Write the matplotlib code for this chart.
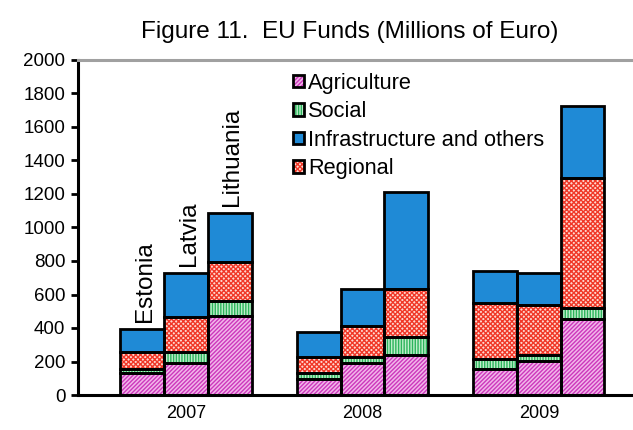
import matplotlib
matplotlib.use('Agg')
import matplotlib.pyplot as plt
import matplotlib.patches as mpatches
import numpy as np

plt.rcParams['font.family'] = ['Liberation Sans', 'DejaVu Sans']
plt.rcParams['hatch.linewidth'] = 1.0

# ---------------------------------------------------------------------------
# DATA  (rows = countries, columns = years), millions of euro
# ---------------------------------------------------------------------------
years = ['2007', '2008', '2009']
countries = ['Estonia', 'Latvia', 'Lithuania']

agriculture = [[130, 98, 153], [190, 190, 203], [473, 239, 452]]
social = [[27, 32, 62], [68, 36, 36], [88, 109, 66]]
regional = [[102, 96, 336], [205, 185, 298], [235, 283, 776]]
infrastructure = [[135, 153, 191], [266, 219, 193], [290, 583, 433]]

yticks = list(range(0, 2001, 200))

# stacking order from bottom: agriculture, social, regional, infrastructure
series = [
    ('Agriculture', agriculture, '#F2B6EA', '#CC38BC', '////////'),
    ('Social', social, '#C0EECC', '#2CB45C', '||||||'),
    ('Regional', regional, '#FFD8D0', '#F03828', 'xxxxxxx'),
    ('Infrastructure and others', infrastructure, '#1F8AD6', '#1F8AD6', None),
]
legend_order = ['Agriculture', 'Social', 'Infrastructure and others', 'Regional']

# ---------------------------------------------------------------------------
# FIGURE
# ---------------------------------------------------------------------------
fig = plt.figure(figsize=(6.33, 4.30), dpi=100, facecolor='white')
ax = fig.add_axes([78 / 633, 1 - 395 / 430, 1 - 78 / 633, (395 - 60) / 430])

x = np.arange(len(years))
bw = 0.2475
offsets = [-bw, 0, bw]

handles = {}
for ci, country in enumerate(countries):
    bottom = np.zeros(len(years))
    for name, data, face, hcol, hatch in series:
        vals = np.array(data[ci], dtype=float)
        ax.bar(x + offsets[ci], vals, width=bw, bottom=bottom,
               color=face, edgecolor=hcol, hatch=hatch, linewidth=0, zorder=2)
        ax.bar(x + offsets[ci], vals, width=bw, bottom=bottom,
               fill=False, edgecolor='black', linewidth=2.0, zorder=3)
        if name not in handles:
            handles[name] = (
                mpatches.Patch(facecolor=face, edgecolor=hcol, hatch=hatch, linewidth=0),
                mpatches.Patch(fill=False, edgecolor='black', linewidth=2.0),
            )
        bottom += vals

# country labels above the 2007 bars
totals_2007 = [sum(s[1][ci][0] for s in series) for ci in range(len(countries))]
for ci, country in enumerate(countries):
    ax.text(x[0] + offsets[ci] + 0.015, totals_2007[ci] + 40, country, rotation=90,
            ha='center', va='bottom', fontsize=17.5)

ax.set_xlim(-0.612, 2.533)
ax.set_ylim(0, 2000)
ax.set_yticks(yticks)
ax.set_yticklabels([str(v) for v in yticks], fontsize=13.5)
ax.set_xticks(x)
ax.set_xticklabels(years, fontsize=13)
ax.tick_params(axis='x', length=0, pad=7)
ax.tick_params(axis='y', length=5, width=2, direction='out', pad=4)

ax.spines['left'].set_linewidth(2.2)
ax.spines['bottom'].set_linewidth(2.2)
ax.spines['top'].set_color('#A0A0A0')
ax.spines['top'].set_linewidth(2.2)
ax.spines['right'].set_visible(False)

ax.legend([handles[n] for n in legend_order], legend_order,
          loc='upper left', bbox_to_anchor=(293 / 633, 1 - 73 / 430),
          bbox_transform=fig.transFigure, frameon=False, fontsize=15.7,
          handlelength=0.5, handleheight=0.5, handletextpad=0.2,
          labelspacing=0.34, borderpad=0, borderaxespad=0)

fig.text(0.553, 1 - 32 / 430, 'Figure 11.  EU Funds (Millions of Euro)',
         ha='center', va='center', fontsize=17.5)

fig.savefig('out.png', dpi=100, facecolor='white')
